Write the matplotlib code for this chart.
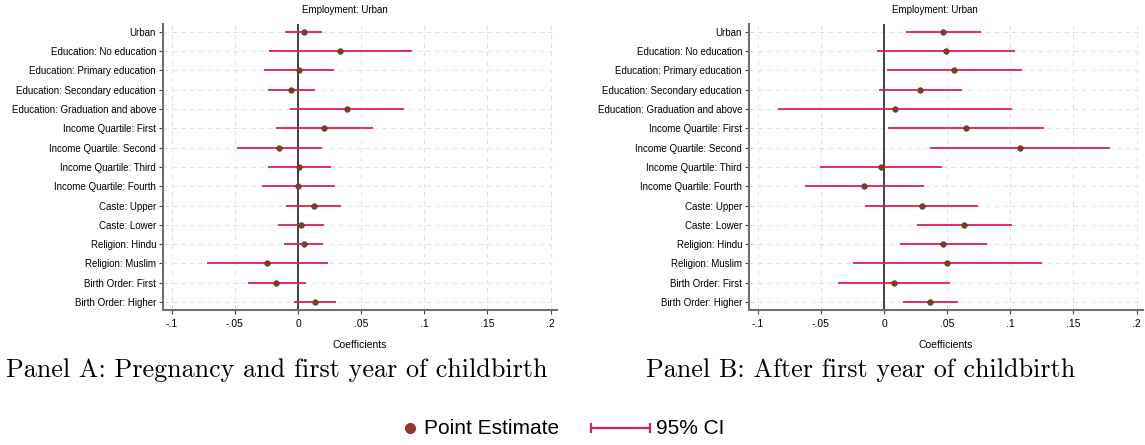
import matplotlib.pyplot as plt
from matplotlib.lines import Line2D

plt.rcParams['font.family'] = ['Liberation Sans', 'DejaVu Sans']

labels = [
    "Urban",
    "Education: No education",
    "Education: Primary education",
    "Education: Secondary education",
    "Education: Graduation and above",
    "Income Quartile: First",
    "Income Quartile: Second",
    "Income Quartile: Third",
    "Income Quartile: Fourth",
    "Caste: Upper",
    "Caste: Lower",
    "Religion: Hindu",
    "Religion: Muslim",
    "Birth Order: First",
    "Birth Order: Higher",
]

# Panel A: pregnancy and first year of childbirth
est_a = [0.0046, 0.0334, 0.0006, -0.0054, 0.0386, 0.0209, -0.0149, 0.0011,
         -0.0003, 0.0123, 0.0023, 0.0043, -0.0243, -0.0171, 0.0134]
lo_a = [-0.010, -0.0234, -0.027, -0.024, -0.0063, -0.0177, -0.0483, -0.024,
        -0.0289, -0.0094, -0.016, -0.011, -0.072, -0.040, -0.0029]
hi_a = [0.0186, 0.090, 0.0286, 0.0134, 0.084, 0.0594, 0.0186, 0.0263,
        0.0289, 0.034, 0.0206, 0.020, 0.024, 0.0063, 0.0297]

# Panel B: after first year of childbirth
est_b = [0.0468, 0.049, 0.0556, 0.0287, 0.0088, 0.065, 0.1075, -0.0028,
         -0.0156, 0.0298, 0.0635, 0.0468, 0.050, 0.008, 0.0366]
lo_b = [0.017, -0.0057, 0.002, -0.0043, -0.084, 0.0034, 0.036, -0.0508,
        -0.0624, -0.0148, 0.0258, 0.0125, -0.025, -0.0363, 0.0148]
hi_b = [0.0766, 0.1035, 0.1095, 0.0616, 0.1016, 0.1265, 0.179, 0.046,
        0.0315, 0.0746, 0.1016, 0.0814, 0.1248, 0.052, 0.0584]

xticks = [-0.1, -0.05, 0, 0.05, 0.1, 0.15, 0.2]
xticklabels = ["-.1", "-.05", "0", ".05", ".1", ".15", ".2"]

ci_color = '#DC1F5A'
pt_color = '#7E3A2E'

W, H = 1145, 445
fig = plt.figure(figsize=(W / 100, H / 100), dpi=100)


def panel(left, est, lo, hi, title_x, caption, caption_x):
    ax = fig.add_axes([left, 0.3034, 0.344, 0.643])
    ypos = list(range(1, len(labels) + 1))
    ax.hlines(ypos, lo, hi, color=ci_color, lw=1.3, zorder=3)
    ax.axvline(0, color='#222222', lw=1.2, zorder=2)
    ax.scatter(est, ypos, s=16, color=pt_color, edgecolor='#5a4a1e',
               linewidth=0.5, zorder=4)
    ax.set_ylim(15.41, 0.59)
    ax.set_xlim(-0.107, 0.205)
    ax.set_yticks(ypos)
    ax.set_yticklabels(labels, fontsize=7)
    ax.set_xticks(xticks)
    ax.set_xticklabels(xticklabels, fontsize=7.5)
    ax.tick_params(axis='both', length=3, width=0.8, color='#444444', pad=2)
    ax.tick_params(axis='x', pad=3.5)
    ax.grid(True, color='#e3e3e3', lw=0.7, ls=(0, (5, 4)), zorder=0)
    for s in ['top', 'right']:
        ax.spines[s].set_visible(False)
    for s in ['left', 'bottom']:
        ax.spines[s].set_color('#6e6e6e')
        ax.spines[s].set_linewidth(1.5)
    ax.set_xlabel("Coefficients", fontsize=7.5, labelpad=8)
    fig.text(title_x, 1 - 10 / H, "Employment: Urban", fontsize=7,
             ha='center', va='center')
    fig.text(caption_x, 1 - 370 / H, caption, fontsize=18.8, family='cmr10',
             ha='center', va='center')
    return ax


panel(163 / W, est_a, lo_a, hi_a, 345 / W,
      "Panel A: Pregnancy and first year of childbirth", 277 / W)
panel(749 / W, est_b, lo_b, hi_b, 935 / W,
      "Panel B: After first year of childbirth", 861 / W)

# legend drawn in figure pixel coordinates
ly = 1 - 428 / H
fig.add_artist(Line2D([410 / W], [ly], marker='o', ls='none',
                      color='#993333', markersize=7, transform=fig.transFigure))
fig.text(424 / W, ly, "Point Estimate", fontsize=15, ha='left', va='center')
fig.add_artist(Line2D([591 / W, 650 / W], [ly, ly], color=ci_color, lw=1.6,
                      transform=fig.transFigure))
for cx in (591, 650):
    fig.add_artist(Line2D([cx / W, cx / W], [ly - 4 / H, ly + 4 / H],
                          color=ci_color, lw=1.6, transform=fig.transFigure))
fig.text(656 / W, ly, "95% CI", fontsize=15, ha='left', va='center')

fig.savefig('out.png', dpi=100)
